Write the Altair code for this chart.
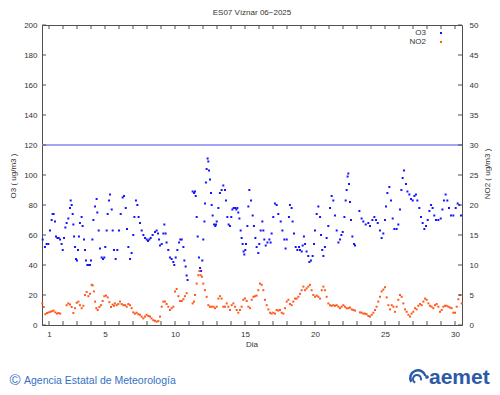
import altair as alt
import pandas as pd

# ---------------- data ----------------
o3_day = [0.55, 0.71, 0.83, 0.95, 1.07, 1.19, 1.26, 1.33, 1.43, 1.50, 1.60, 1.69, 1.79, 1.90, 1.98,
          2.07, 2.17, 2.26, 2.38, 2.50, 2.55, 2.62, 2.69, 2.74, 2.79, 2.86, 2.93, 3.00, 3.07, 3.14,
          3.21, 3.33, 3.40, 3.50, 3.57, 3.64, 3.74, 3.83, 3.93, 4.00, 4.10, 4.17, 4.29, 4.40, 4.45,
          4.55, 4.64, 4.76, 4.86, 4.95, 5.02, 5.12, 5.19, 5.29, 5.36, 5.48, 5.55, 5.64, 5.76, 5.88,
          6.00, 6.12, 6.26, 6.36, 6.48, 6.57, 6.67, 6.79, 6.90, 7.02, 7.10, 7.21, 7.31, 7.40, 7.50,
          7.62, 7.74, 7.86, 7.98, 8.07, 8.17, 8.26, 8.40, 8.57, 8.69, 8.79, 8.86, 8.93, 9.05, 9.17,
          9.24, 9.33, 9.40, 9.52, 9.64, 9.76, 9.88, 9.95, 10.05, 10.17, 10.29, 10.38, 10.48, 10.60,
          10.67, 10.76, 10.83, 10.90,
          11.26, 11.36, 11.43, 11.48, 11.55, 11.62, 11.71, 11.79, 11.86, 11.95, 12.02, 12.10, 12.14,
          12.21, 12.26, 12.33, 12.38, 12.43, 12.50, 12.57, 12.62, 12.69, 12.79, 12.88, 12.93, 12.98,
          13.10, 13.21, 13.33, 13.45, 13.57, 13.64, 13.74, 13.83, 13.93, 14.02, 14.10, 14.19, 14.29,
          14.38, 14.45, 14.52, 14.60, 14.69, 14.76, 14.83, 14.90, 14.95, 15.02, 15.07, 15.17, 15.24,
          15.31,
          15.43, 15.55, 15.64, 15.74, 15.83, 15.95, 16.02, 16.12, 16.24, 16.31, 16.38, 16.48, 16.60,
          16.74, 16.83, 16.90, 17.02, 17.14, 17.26, 17.38, 17.55, 17.67, 17.81, 17.90, 17.98, 18.14,
          18.21, 18.33, 18.40, 18.50, 18.62, 18.74, 18.86, 18.93, 19.05, 19.12, 19.21, 19.29, 19.40,
          19.52, 19.60, 19.71, 19.83, 19.93, 20.00, 20.12, 20.24, 20.36, 20.43, 20.52, 20.60, 20.71,
          20.83, 20.95, 21.07, 21.19, 21.31, 21.43, 21.55, 21.67, 21.79, 21.88, 21.98, 22.10, 22.19,
          22.26, 22.33, 22.38, 22.43, 22.50, 22.57, 22.67, 22.79, 22.86,
          23.17, 23.33, 23.45, 23.62, 23.81, 23.93, 24.10, 24.24, 24.36, 24.48, 24.64, 24.76, 24.88,
          25.00, 25.07, 25.17, 25.31, 25.43, 25.55, 25.67, 25.83, 25.95, 26.07, 26.17, 26.26, 26.36,
          26.50, 26.60, 26.74, 26.86, 26.98, 27.10, 27.21, 27.31, 27.45, 27.57, 27.69, 27.81, 27.93,
          28.05, 28.17, 28.29, 28.40, 28.52, 28.64, 28.81, 28.98, 29.10, 29.21, 29.33, 29.45, 29.57,
          29.71, 29.88, 30.05, 30.19, 30.31, 30.43]
o3_value = [57, 52, 54, 54, 63, 70, 74, 74, 69, 59, 58, 58, 57, 54, 50,
            58, 65, 68, 71, 78, 83, 80, 74, 67, 59, 52, 44, 43, 50, 59,
            68, 72, 66, 57, 50, 43, 40, 40, 40, 43, 57, 70, 79, 84, 75,
            63, 51, 45, 44, 45, 52, 63, 74, 83, 87, 77, 63, 50, 44, 50,
            63, 74, 85, 86, 78, 64, 52, 44, 48, 60, 72, 83, 80, 72, 68,
            63, 60, 58, 57, 56, 57, 58, 60, 62, 63, 61, 57, 53, 54, 61,
            67, 61, 55, 50, 45, 44, 42, 40, 45, 50, 55, 57, 57, 52,
            43, 39, 33, 30,
            89, 88, 89, 86, 72, 59, 45, 38, 36, 43, 57, 69, 81,
            95, 104, 111, 109, 103, 97, 88, 80, 73, 67, 66, 67, 69,
            78, 88, 90, 93, 90, 83, 72, 67, 66, 72, 77, 78, 78,
            77, 78, 75, 71, 63, 58, 54, 49, 47, 50, 54, 66, 79,
            90,
            83, 73, 66, 58, 52, 48, 54, 63, 69, 63, 57, 53, 55,
            57, 55, 61, 72, 81, 80, 74, 69, 63, 57, 51, 57, 72,
            80, 78, 69, 61, 52, 50, 52, 50, 49, 53, 59, 54, 49,
            46, 42, 43, 46, 54, 63, 74, 79, 72, 60, 50, 46, 52,
            58, 66, 78, 86, 83, 73, 63, 55, 57, 60, 62, 72, 83,
            90, 99, 101, 94, 82, 70, 59, 54, 53,
            76, 71, 69, 67, 68, 66, 70, 72, 70, 68, 63, 58, 61,
            70, 79, 88, 92, 83, 71, 64, 64, 67, 77, 90, 98, 103,
            94, 89, 87, 84, 83, 86, 87, 83, 78, 72, 68, 64, 66,
            70, 76, 80, 78, 73, 70, 70, 71, 77, 83, 87, 83, 78,
            73, 73, 78, 81, 80, 73]

no2_day = [0.52, 0.62, 0.74, 0.86, 0.98, 1.10, 1.21, 1.33, 1.45, 1.57, 1.69, 1.80,
           2.26, 2.38, 2.50, 2.62, 2.74, 2.86, 2.98, 3.10, 3.21, 3.33, 3.45, 3.57, 3.69, 3.81,
           3.93, 4.05, 4.12, 4.21, 4.29, 4.38, 4.48, 4.60, 4.71, 4.83, 4.95, 5.07, 5.19, 5.31,
           5.43, 5.55, 5.64, 5.71, 5.83, 5.95, 6.07, 6.19, 6.31, 6.43, 6.55, 6.67, 6.79, 6.90,
           7.02, 7.14, 7.26, 7.38, 7.50, 7.62, 7.74, 7.86, 7.98, 8.10, 8.21, 8.33, 8.45, 8.57,
           8.69, 8.81, 8.93, 9.05, 9.17, 9.29, 9.40, 9.52, 9.64, 9.76, 9.88, 10.00, 10.12, 10.24,
           10.36, 10.48, 10.60, 10.71, 10.83,
           11.26, 11.36, 11.43, 11.55, 11.67, 11.74, 11.83, 11.93, 12.02, 12.14, 12.26, 12.38,
           12.50, 12.62, 12.74, 12.86, 12.98, 13.10, 13.21, 13.33, 13.45, 13.57, 13.69, 13.81,
           13.93, 14.05, 14.17, 14.29, 14.40, 14.52, 14.64, 14.76, 14.88, 15.00, 15.12, 15.24,
           15.36, 15.48, 15.60, 15.71, 15.83, 15.95, 16.07, 16.19, 16.31, 16.43, 16.55, 16.67,
           16.79, 16.90, 17.02, 17.14, 17.26, 17.38, 17.50, 17.62, 17.74, 17.86, 17.98, 18.10,
           18.21, 18.33, 18.45, 18.57, 18.69, 18.81, 18.93, 19.05, 19.17, 19.29, 19.40, 19.52,
           19.64, 19.76, 19.88, 20.00, 20.12, 20.24, 20.36, 20.48, 20.60, 20.71, 20.83, 20.95,
           21.07, 21.19, 21.31, 21.43, 21.55, 21.67, 21.79, 21.90, 22.02, 22.14, 22.26, 22.38,
           22.50, 22.62, 22.74, 22.86,
           23.21, 23.33, 23.45, 23.57, 23.69, 23.81, 23.93, 24.05, 24.17, 24.29, 24.40, 24.52,
           24.64, 24.76, 24.88, 25.00, 25.12, 25.24, 25.36, 25.48, 25.60, 25.71, 25.83, 25.95,
           26.07, 26.19, 26.31, 26.43, 26.55, 26.67, 26.79, 26.90, 27.02, 27.14, 27.26, 27.38,
           27.50, 27.62, 27.74, 27.86, 27.98, 28.10, 28.21, 28.33, 28.45, 28.57, 28.69, 28.81,
           28.93, 29.05, 29.17, 29.29, 29.40, 29.52, 29.64, 29.76, 29.88, 30.00, 30.12, 30.24,
           30.36, 30.48]
no2_value = [3.6, 3.0, 1.8, 2.0, 2.1, 2.2, 2.3, 2.4, 2.1, 1.9, 2.0, 1.9,
             3.3, 3.6, 3.4, 3.0, 2.0, 2.8, 3.7, 3.9, 3.3, 2.8, 3.2, 5.0, 5.5, 4.8,
             5.2, 6.7, 6.6, 5.6, 3.9, 2.8, 2.5, 3.0, 3.3, 4.0, 4.8, 4.9, 4.6, 3.8,
             3.0, 3.4, 3.2, 3.6, 3.3, 3.5, 3.9, 3.5, 3.3, 3.3, 3.05, 3.5, 3.3, 2.8,
             2.1, 1.9, 2.05, 1.8, 1.7, 1.4, 1.1, 1.4, 1.7, 1.5, 1.4, 1.1, 0.8, 0.7,
             0.55, 0.65, 1.4, 3.05, 3.9, 3.9, 3.5, 3.05, 2.5, 2.8, 3.05, 5.6, 6.0, 4.8,
             4.0, 4.0, 4.3, 4.8, 5.3,
             3.6, 3.9, 5.0, 6.9, 8.3, 9.0, 8.3, 8.05, 6.9, 5.8, 4.7, 3.3,
             3.05, 3.05, 3.05, 2.8, 3.05, 4.4, 4.8, 4.4, 3.05, 3.05, 3.6, 3.05,
             2.5, 3.3, 3.6, 3.05, 2.5, 2.05, 2.5, 3.05, 4.2, 4.4, 4.0, 3.05,
             2.8, 4.2, 4.7, 4.8, 4.9, 5.8, 6.9, 6.7, 5.8, 4.2, 3.3, 2.6,
             2.05, 1.9, 2.05, 1.9, 2.5, 2.4, 2.5, 2.05, 1.9, 2.8, 3.9, 4.2,
             3.5, 3.3, 3.9, 4.4, 4.4, 4.7, 5.2, 5.8, 6.4, 5.8, 6.1, 6.4,
             6.7, 5.8, 5.0, 4.7, 4.9, 4.7, 4.4, 5.8, 6.4, 5.8, 4.7, 3.6,
             3.3, 3.2, 3.3, 3.2, 3.3, 3.05, 2.8, 3.05, 3.3, 3.05, 2.8, 2.8,
             2.9, 2.6, 2.5, 2.4,
             2.1, 2.05, 1.9, 1.9, 1.8, 1.5, 1.4, 1.7, 2.05, 2.5, 3.05, 3.9,
             4.7, 5.6, 5.9, 6.3, 4.6, 3.3, 2.6, 3.3, 3.05, 2.2, 3.05, 4.2,
             5.0, 4.7, 3.6, 2.6, 2.2, 1.7, 1.4, 1.9, 2.2, 2.8, 2.6, 3.2,
             3.5, 3.3, 3.9, 4.4, 4.2, 3.6, 3.2, 3.05, 2.8, 3.3, 3.5, 3.05,
             2.2, 2.5, 3.05, 3.2, 3.2, 3.05, 2.9, 2.8, 2.05, 2.05, 3.05, 4.3,
             5.0, 3.6]

day_ticks = list(range(1, 31))
x_labels = [1, 5, 10, 15, 20, 25, 30]
o3_ticks = list(range(0, 201, 20))
no2_ticks = list(range(0, 51, 5))
o3_limit = [120]

title_text = "ES07 Víznar 06−2025"
x_title = "Dia"
y_title = "O3 ( ug/m3 )"
y2_title = "NO2 ( ug/m3 )"
legend_names = ["O3", "NO2"]
footer_text = "Agencia Estatal de Meteorología"
logo_text = "aemet"

# ---------------- styling ----------------
FONT = "Liberation Sans"
O3_COLOR = "#1414ff"
NO2_COLOR = "#ff5a1e"
FRAME = "#505050"
W, H = 420, 300

o3_df = pd.DataFrame({"dia": o3_day, "o3": o3_value})
no2_df = pd.DataFrame({"dia": no2_day, "no2": no2_value})

xscale = alt.Scale(domain=[0.5, 30.5], nice=False, zero=False)
o3scale = alt.Scale(domain=[0, 200], nice=False, zero=True)
no2scale = alt.Scale(domain=[0, 50], nice=False, zero=True)


def x_enc(field):
    return alt.X(field, scale=xscale,
                 axis=alt.Axis(values=x_labels, title=None, labelPadding=5, labelFont=FONT,
                               labelFontSize=8, labelColor="#333333", ticks=False, tickSize=0,
                               domain=False, grid=False))


o3_layer = alt.Chart(o3_df).mark_square(size=4, color=O3_COLOR, opacity=1).encode(
    x=x_enc("dia:Q"),
    y=alt.Y("o3:Q", scale=o3scale,
            axis=alt.Axis(orient="left", values=o3_ticks, title=None, labelPadding=5,
                          labelFont=FONT, labelFontSize=8, labelColor="#333333",
                          ticks=False, tickSize=0, domain=False, grid=False)),
)

no2_layer = alt.Chart(no2_df).mark_square(size=4, color=NO2_COLOR, opacity=1).encode(
    x=x_enc("dia:Q"),
    y=alt.Y("no2:Q", scale=no2scale,
            axis=alt.Axis(orient="right", values=no2_ticks, title=None, labelPadding=7,
                          labelFont=FONT, labelFontSize=8, labelColor="#333333",
                          ticks=False, tickSize=0, domain=False, grid=False)),
)

limit_layer = alt.Chart(pd.DataFrame({"lim": o3_limit})).mark_rule(
    color="#a4a4f4", strokeWidth=2).encode(
    y=alt.Y("lim:Q", scale=o3scale, axis=None))

xt_df = pd.DataFrame({"dia": day_ticks})
xtick_bottom = alt.Chart(xt_df).mark_rule(color=FRAME, strokeWidth=1).encode(
    x=x_enc("dia:Q"), y=alt.value(H), y2=alt.value(H - 4))
xtick_top = alt.Chart(xt_df).mark_rule(color=FRAME, strokeWidth=1).encode(
    x=x_enc("dia:Q"), y=alt.value(0), y2=alt.value(4))

yt_df = pd.DataFrame({"v": o3_ticks})
ytick_left = alt.Chart(yt_df).mark_rule(color=FRAME, strokeWidth=1).encode(
    y=alt.Y("v:Q", scale=o3scale, axis=None), x=alt.value(0), x2=alt.value(4))
yt2_df = pd.DataFrame({"v": no2_ticks})
ytick_right = alt.Chart(yt2_df).mark_rule(color=FRAME, strokeWidth=1).encode(
    y=alt.Y("v:Q", scale=no2scale, axis=None), x=alt.value(W - 4), x2=alt.value(W))


def label(text, x, y, size=8, color="#333333", align="center", angle=0,
          weight="normal", font=FONT):
    kw = dict(font=font, fontSize=size, color=color, align=align, baseline="middle",
              fontWeight=weight)
    if angle:
        kw["angle"] = angle
    return alt.Chart(pd.DataFrame({"t": [text]})).mark_text(**kw).encode(
        text="t:N", x=alt.value(x), y=alt.value(y))


title_layer = label(title_text, W / 2, -12.5)
xtitle_layer = label(x_title, W / 2, 320)
ytitle_layer = label(y_title, -28.5, 151, angle=270)
y2title_layer = label(y2_title, 445.5, 149, angle=270)

leg_o3_t = label(legend_names[0], 384, 8, align="right")
leg_no2_t = label(legend_names[1], 384, 17, align="right")
leg_dots = alt.Chart(pd.DataFrame({"s": legend_names, "yy": [8, 17]})).mark_square(
    size=4, opacity=1).encode(
    x=alt.value(399), y=alt.Y("yy:Q", scale=None, axis=None),
    color=alt.Color("s:N", scale=alt.Scale(domain=legend_names, range=[O3_COLOR, NO2_COLOR]),
                    legend=None))

FOOT_BLUE = "#3471c4"
copy_layer = label("©", -27, 355, size=15, color=FOOT_BLUE)
footer_layer = label(footer_text, -18, 355.5, size=10.5, color=FOOT_BLUE, align="left")

LOGO_BLUE = "#2b5aa8"
logo_layer = label(logo_text, 387, 353, size=21, color=LOGO_BLUE, align="left", weight="bold")
arc1 = alt.Chart(pd.DataFrame({"a": [0]})).mark_arc(
    color=LOGO_BLUE, radius=9, radius2=6.5, theta=4.2, theta2=7.6).encode(
    x=alt.value(376), y=alt.value(353))
arc2 = alt.Chart(pd.DataFrame({"a": [0]})).mark_arc(
    color=LOGO_BLUE, radius=5, radius2=3, theta=3.6, theta2=8.2).encode(
    x=alt.value(375), y=alt.value(354))
logo_dot = alt.Chart(pd.DataFrame({"a": [0]})).mark_circle(
    color=LOGO_BLUE, size=14, opacity=1).encode(x=alt.value(385), y=alt.value(352))

chart = alt.layer(
    limit_layer, o3_layer, no2_layer,
    xtick_bottom, xtick_top, ytick_left, ytick_right,
    title_layer, xtitle_layer, ytitle_layer, y2title_layer,
    leg_o3_t, leg_no2_t, leg_dots,
    copy_layer, footer_layer, logo_layer, arc1, arc2, logo_dot,
).resolve_scale(y="independent").properties(
    width=W, height=H,
    padding={"left": 34, "top": 17, "right": 30, "bottom": 62},
    autosize=alt.AutoSizeParams(type="none"),
    background="white",
).configure_view(stroke=FRAME, strokeWidth=1)

chart.save("out.html", embed_options={"renderer": "svg", "actions": False})
